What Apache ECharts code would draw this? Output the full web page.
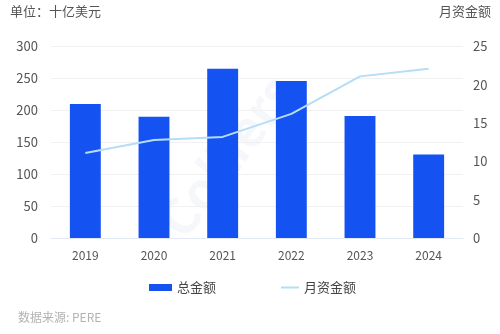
<!DOCTYPE html>
<html>
<head>
<meta charset="utf-8">
<script src="https://cdn.jsdelivr.net/npm/echarts@6/dist/echarts.min.js"></script>
<style>
html,body{margin:0;padding:0;background:#fff;}
#c{width:500px;height:334px;}
</style>
</head>
<body>
<div id="c"></div>
<script>
var categories = ['2019','2020','2021','2022','2023','2024'];
var totalAmount = [210, 190, 265, 246, 191, 131];
var monthlyAmount = [11.1, 12.8, 13.2, 16.2, 21.1, 22.1];
var leftTicks = {min:0, max:300, interval:50};
var rightTicks = {min:0, max:25, interval:5};

var FONT = '"Noto Sans CJK SC","Noto Sans",sans-serif';
var chart = echarts.init(document.getElementById('c'), null, {renderer:'canvas'});
chart.setOption({
  animation:false,
  backgroundColor:'#fff',
  textStyle:{fontFamily:FONT},
  graphic:[
    {type:'text', left:10, top:5, style:{text:'单位：十亿美元', fill:'#555', font:'13px '+FONT}},
    {type:'text', right:9, top:5, style:{text:'月资金额', fill:'#555', font:'13px '+FONT}},
    {type:'text', left:18, top:311, style:{text:'数据来源: PERE', fill:'#b3b3b3', font:'12px '+FONT}},
    {type:'text', x:150, y:215, rotation:Math.PI/3.4, z:-1, style:{text:'Colliers', fill:'rgba(195,205,222,0.16)', font:'bold 50px '+FONT}}
  ],
  grid:{left:51, right:37, top:46.5, bottom:96, containLabel:false},
  legend:[
    {data:[{name:'总金额', icon:'rect'}], left:144, top:276, itemWidth:23, itemHeight:7,
     textStyle:{fontSize:13, color:'#444', fontFamily:FONT}},
    {data:[{name:'月资金额', icon:'rect'}], left:276, top:276, itemWidth:18, itemHeight:2,
     textStyle:{fontSize:13, color:'#444', fontFamily:FONT}}
  ],
  xAxis:{
    type:'category', data:categories,
    axisLine:{lineStyle:{color:'#e2e9f5'}},
    axisTick:{show:false},
    axisLabel:{color:'#555', fontSize:12, margin:11, fontFamily:FONT}
  },
  yAxis:[
    {type:'value', min:leftTicks.min, max:leftTicks.max, interval:leftTicks.interval,
     axisLine:{show:false}, axisTick:{show:false},
     axisLabel:{color:'#555', fontSize:13, margin:13, fontFamily:FONT},
     splitLine:{lineStyle:{color:'#f1f1f1'}}},
    {type:'value', min:rightTicks.min, max:rightTicks.max, interval:rightTicks.interval,
     axisLine:{show:false}, axisTick:{show:false},
     axisLabel:{color:'#555', fontSize:13, margin:10, fontFamily:FONT},
     splitLine:{show:false}}
  ],
  series:[
    {name:'总金额', type:'bar', data:totalAmount, barWidth:'45%', yAxisIndex:0,
     itemStyle:{color:'#1552F2'}},
    {name:'月资金额', type:'line', data:monthlyAmount, yAxisIndex:1, symbol:'none',
     lineStyle:{color:'#B6DDF8', width:2}, itemStyle:{color:'#B6DDF8'}}
  ]
});
</script>
</body>
</html>
